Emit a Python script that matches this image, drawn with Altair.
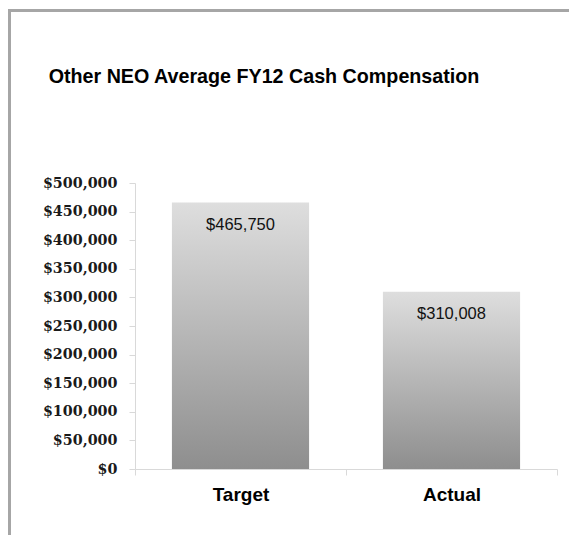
import altair as alt
import pandas as pd

categories = ["Target", "Actual"]
values = [465750, 310008]
value_labels = ["$465,750", "$310,008"]
y_ticks = [0, 50000, 100000, 150000, 200000, 250000, 300000, 350000, 400000, 450000, 500000]
title_text = "Other NEO Average FY12 Cash Compensation"

df = pd.DataFrame({"category": categories, "value": values, "label": value_labels})

x_enc = alt.X(
    "category:N",
    sort=categories,
    title=None,
    scale=alt.Scale(paddingInner=0, paddingOuter=0),
    axis=alt.Axis(
        labelAngle=0,
        labelFont="Liberation Sans",
        labelFontWeight="bold",
        labelFontSize=19,
        labelColor="#000000",
        labelPadding=10,
        tickBand="extent",
        tickSize=6,
        tickColor="#d9d9d9",
        domainColor="#d9d9d9",
        grid=False,
    ),
)
y_enc = alt.Y(
    "value:Q",
    title=None,
    scale=alt.Scale(domain=[0, 500000], nice=False),
    axis=alt.Axis(
        values=y_ticks,
        format="$,.0f",
        labelFont="DejaVu Serif",
        labelFontWeight="bold",
        labelFontSize=14.3,
        labelColor="#1a1a1a",
        labelPadding=12,
        labelOverlap=False,
        tickSize=6,
        tickColor="#d9d9d9",
        domainColor="#d9d9d9",
        grid=False,
    ),
)

grad = alt.Gradient(
    gradient="linear",
    stops=[
        alt.GradientStop(color="#dedede", offset=0),
        alt.GradientStop(color="#8e8e8e", offset=1),
    ],
    x1=0, x2=0, y1=0, y2=1,
)

base = alt.Chart(df)
bars = base.mark_bar(width=alt.RelativeBandSize(0.65), color=grad).encode(x=x_enc, y=y_enc)
text = base.mark_text(
    dy=27, baseline="alphabetic", fontSize=16.5, font="Liberation Sans", color="#111111"
).encode(x=x_enc, y=y_enc, text="label:N")

frame_df = pd.DataFrame({"a": [0]})
frame_top = alt.Chart(frame_df).mark_rule(color="#a6a6a6", strokeWidth=3).encode(
    x=alt.value(-127), x2=alt.value(440), y=alt.value(-172.5), y2=alt.value(-172.5)
)
frame_left = alt.Chart(frame_df).mark_rule(color="#a6a6a6", strokeWidth=3).encode(
    x=alt.value(-125.5), x2=alt.value(-125.5), y=alt.value(-174), y2=alt.value(360)
)
title_mark = alt.Chart(frame_df).mark_text(
    text=title_text,
    font="Liberation Sans",
    fontSize=19.7,
    fontWeight="bold",
    color="#000000",
    align="center",
    baseline="alphabetic",
).encode(x=alt.value(129), y=alt.value(-100))

chart = (
    alt.layer(bars, text, frame_top, frame_left, title_mark)
    .properties(
        width=422,
        height=286,
        padding={"left": 135, "top": 183, "right": 12, "bottom": 66},
        autosize=alt.AutoSizeParams(type="none"),
    )
    .configure_view(stroke=None)
)

chart.save("out.html", embed_options={"renderer": "svg", "actions": False})
